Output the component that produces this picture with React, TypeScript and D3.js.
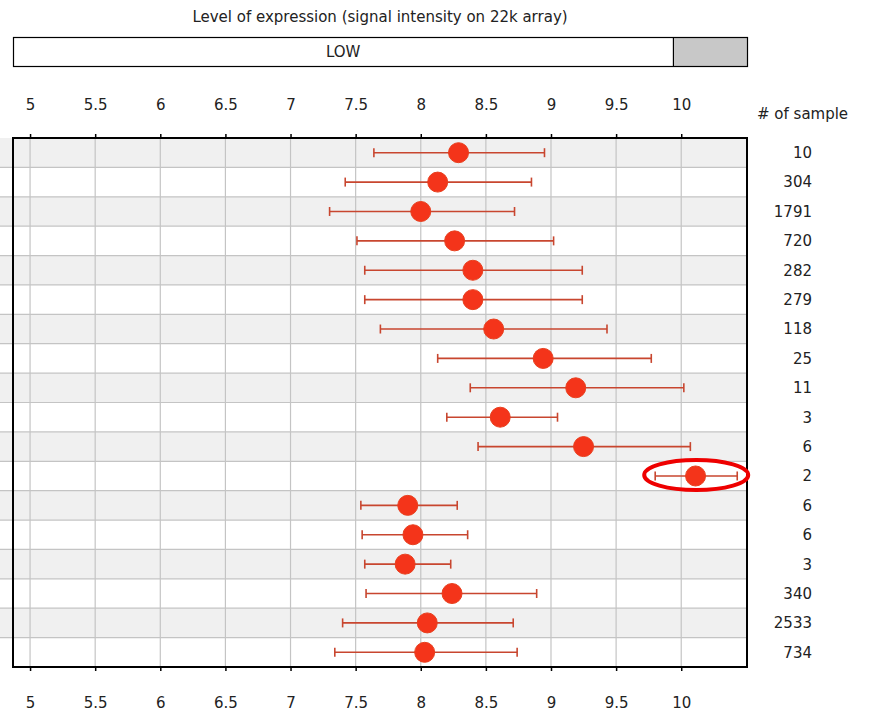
import React, { useEffect, useRef } from 'react';
import * as d3 from 'd3';

// values
const sampleCounts = ['10', '304', '1791', '720', '282', '279', '118', '25', '11', '3', '6', '2', '6', '6', '3', '340', '2533', '734'];
const means = [8.29, 8.13, 8.0, 8.26, 8.4, 8.4, 8.56, 8.94, 9.19, 8.61, 9.25, 10.11, 7.9, 7.94, 7.88, 8.24, 8.05, 8.03];
const lowerBounds = [7.64, 7.42, 7.3, 7.51, 7.57, 7.57, 7.69, 8.13, 8.38, 8.2, 8.44, 9.8, 7.54, 7.55, 7.57, 7.58, 7.4, 7.34];
const upperBounds = [8.95, 8.85, 8.72, 9.02, 9.24, 9.24, 9.43, 9.77, 10.02, 9.05, 10.07, 10.43, 8.28, 8.36, 8.23, 8.89, 8.71, 8.74];
const xTicks = [5, 5.5, 6, 6.5, 7, 7.5, 8, 8.5, 9, 9.5, 10];
const levelThreshold = 9.94;
const highlightedRow = 11;

const W = 875;
const H = 713;
const FONT = '"DejaVu Sans", Verdana, sans-serif';

export default function App() {
  const ref = useRef<SVGSVGElement>(null);

  useEffect(() => {
    const svg = d3.select(ref.current);
    svg.selectAll('*').remove();

    const left = 13, right = 747, top = 138, bottom = 667;

    const x = d3.scaleLinear().domain([4.869, 10.505]).range([left, right]);
    const y = d3.scaleBand<number>()
      .domain(d3.range(sampleCounts.length))
      .range([top, bottom])
      .padding(0);

    // title + low/high bar
    svg.append('text')
      .attr('x', 380).attr('y', 22)
      .attr('text-anchor', 'middle')
      .style('font', `15px ${FONT}`)
      .attr('fill', '#222')
      .text('Level of expression (signal intensity on 22k array)');

    svg.append('rect')
      .attr('x', x(levelThreshold)).attr('y', 37.5)
      .attr('width', right - x(levelThreshold)).attr('height', 29)
      .attr('fill', '#c8c8c8');
    svg.append('rect')
      .attr('x', left + 0.5).attr('y', 37.5)
      .attr('width', right - left).attr('height', 29)
      .attr('fill', 'none').attr('stroke', '#000').attr('stroke-width', 1.2);
    svg.append('line')
      .attr('x1', x(levelThreshold)).attr('x2', x(levelThreshold))
      .attr('y1', 37.5).attr('y2', 66.5)
      .attr('stroke', '#000').attr('stroke-width', 1.2);
    svg.append('text')
      .attr('x', (left + x(levelThreshold)) / 2).attr('y', 57)
      .attr('text-anchor', 'middle')
      .style('font', `15px ${FONT}`)
      .attr('fill', '#222')
      .text('LOW');

    // row stripes (they run past the frame to the page edge)
    svg.append('g').selectAll('rect')
      .data(sampleCounts)
      .enter()
      .append('rect')
      .attr('x', 0)
      .attr('y', (d, i) => y(i)!)
      .attr('width', right)
      .attr('height', y.bandwidth())
      .attr('fill', (d, i) => (i % 2 === 0 ? '#f0f0f0' : '#ffffff'));

    // grid
    const grid = svg.append('g').attr('stroke', '#c4c4c4').attr('stroke-width', 1.2);
    grid.selectAll('.h')
      .data(d3.range(1, sampleCounts.length))
      .enter()
      .append('line')
      .attr('x1', 0).attr('x2', right)
      .attr('y1', i => y(i)!).attr('y2', i => y(i)!);
    grid.selectAll('.v')
      .data(xTicks)
      .enter()
      .append('line')
      .attr('x1', d => x(d)).attr('x2', d => x(d))
      .attr('y1', top).attr('y2', bottom);

    // axes
    const topAxis = svg.append('g')
      .attr('transform', `translate(0, ${top})`)
      .call(d3.axisTop(x).tickValues(xTicks).tickSize(4).tickPadding(24).tickFormat(d3.format('')));
    const bottomAxis = svg.append('g')
      .attr('transform', `translate(0, ${bottom})`)
      .call(d3.axisBottom(x).tickValues(xTicks).tickSize(4).tickPadding(26).tickFormat(d3.format('')));
    [topAxis, bottomAxis].forEach(a => {
      a.select('.domain').remove();
      a.selectAll('line').attr('stroke', '#000').attr('stroke-width', 1.5);
      a.selectAll('text').style('font', `15px ${FONT}`).attr('fill', '#222');
    });

    // frame
    svg.append('rect')
      .attr('x', left).attr('y', top)
      .attr('width', right - left).attr('height', bottom - top)
      .attr('fill', 'none').attr('stroke', '#000').attr('stroke-width', 2);

    // error bars
    const cy = (i: number) => y(i)! + y.bandwidth() / 2;
    const bars = svg.append('g').attr('stroke', '#c8462f').attr('stroke-width', 1.6);
    bars.selectAll('.bar')
      .data(means)
      .enter()
      .append('line')
      .attr('x1', (d, i) => x(lowerBounds[i])).attr('x2', (d, i) => x(upperBounds[i]))
      .attr('y1', (d, i) => cy(i)).attr('y2', (d, i) => cy(i));
    bars.selectAll('.capL')
      .data(lowerBounds)
      .enter()
      .append('line')
      .attr('x1', d => x(d)).attr('x2', d => x(d))
      .attr('y1', (d, i) => cy(i) - 4.5).attr('y2', (d, i) => cy(i) + 4.5);
    bars.selectAll('.capR')
      .data(upperBounds)
      .enter()
      .append('line')
      .attr('x1', d => x(d)).attr('x2', d => x(d))
      .attr('y1', (d, i) => cy(i) - 4.5).attr('y2', (d, i) => cy(i) + 4.5);

    // means
    svg.append('g').selectAll('circle')
      .data(means)
      .enter()
      .append('circle')
      .attr('cx', d => x(d))
      .attr('cy', (d, i) => cy(i))
      .attr('r', 10)
      .attr('fill', '#f4341a')
      .attr('stroke', '#e8401f')
      .attr('stroke-width', 1);

    // sample counts
    svg.append('text')
      .attr('x', 757).attr('y', 119)
      .style('font', `15px ${FONT}`)
      .attr('fill', '#222')
      .text('# of sample');
    svg.append('g').selectAll('text')
      .data(sampleCounts)
      .enter()
      .append('text')
      .attr('x', 812)
      .attr('y', (d, i) => cy(i))
      .attr('dy', '0.36em')
      .attr('text-anchor', 'end')
      .style('font', `15px ${FONT}`)
      .attr('fill', '#222')
      .text(d => d);

    // highlight ellipse
    svg.append('ellipse')
      .attr('cx', (x(lowerBounds[highlightedRow]) + x(upperBounds[highlightedRow])) / 2)
      .attr('cy', cy(highlightedRow) - 1)
      .attr('rx', 52)
      .attr('ry', 15)
      .attr('fill', 'none')
      .attr('stroke', '#ee0000')
      .attr('stroke-width', 4);
  }, []);

  return (
    <svg
      ref={ref}
      width={W}
      height={H}
      style={{ position: 'absolute', left: 0, top: 0, background: '#fff' }}
    />
  );
}
